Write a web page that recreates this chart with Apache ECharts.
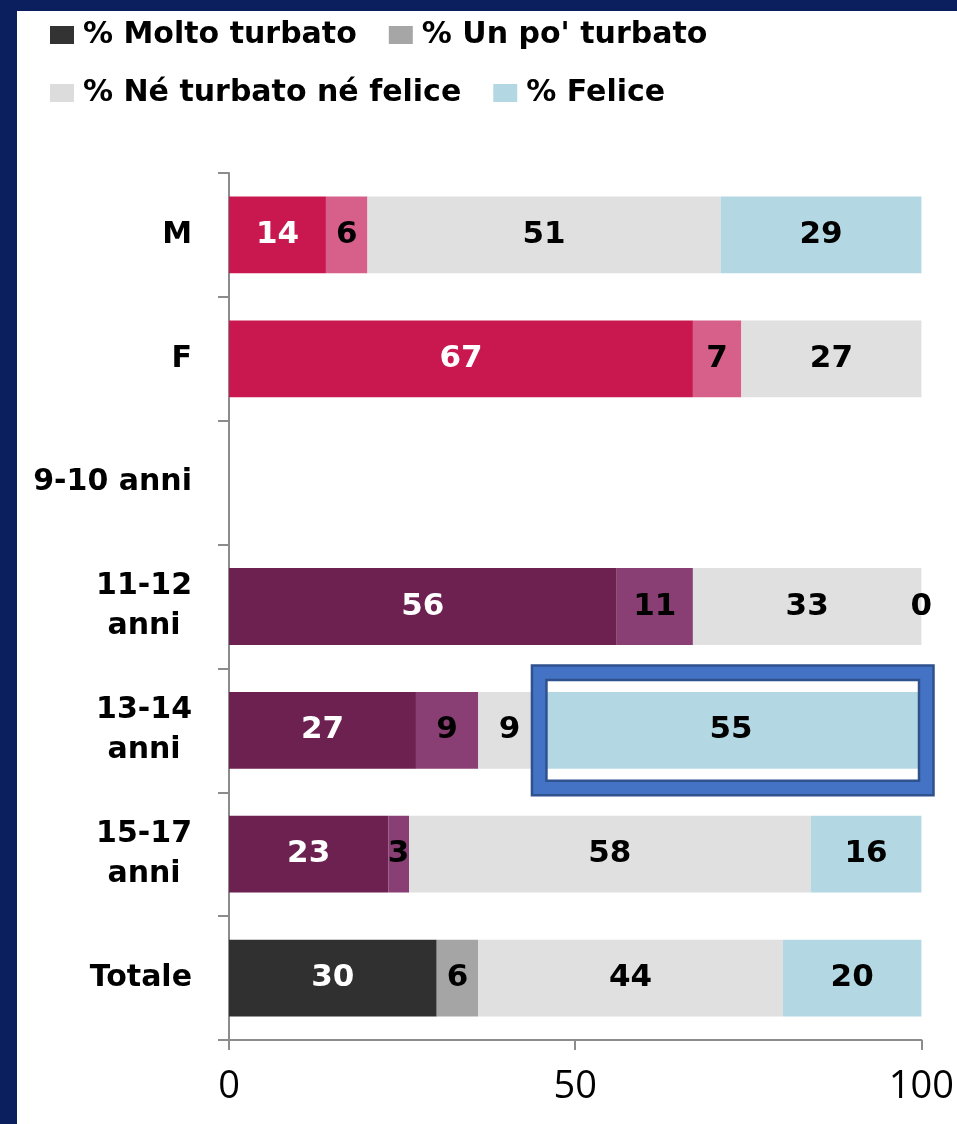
<!DOCTYPE html>
<html><head><meta charset="utf-8">
<script src="https://cdn.jsdelivr.net/npm/echarts@6/dist/echarts.min.js"></script>
<style>
html,body{margin:0;padding:0;background:#0B1F5E;width:957px;height:1124px;overflow:hidden}
#chart{position:absolute;left:17px;top:11px;width:940px;height:1113px;background:#fff}
</style></head><body><div id="chart"></div>
<script>
// ---- data ----
const categories = ['M', 'F', '9-10 anni', '11-12\nanni', '13-14\nanni', '15-17\nanni', 'Totale'];
const seriesNames = ['% Molto turbato', "% Un po' turbato", '% Né turbato né felice', '% Felice'];
const molto  = [14, 67, null, 56, 27, 23, 30];
const unPo   = [6, 7, null, 11, 9, 3, 6];
const neNe   = [51, 27, null, 33, 9, 58, 44];
const felice = [29, null, null, 0, 55, 16, 20];
const xTicks = [0, 50, 100];
const highlight = { category: '13-14\nanni', from: 44.8, to: 100.7 };

// ---- styles ----
const groupOf = ['gender', 'gender', 'age', 'age', 'age', 'age', 'total'];
const palette = {
  gender: ['#C9184F', '#D7608A', '#E0E0E0', '#B4D8E3'],
  age:    ['#6C2150', '#8A3F74', '#E0E0E0', '#B4D8E3'],
  total:  ['#303030', '#A5A5A5', '#E0E0E0', '#B4D8E3']
};
const legendColors = ['#333333', '#A6A6A6', '#DCDCDC', '#B4D8E3'];
const labelColors = ['#FFFFFF', '#000000', '#000000', '#000000'];
const axisGray = '#8C8C8C';
const boldFont = 'DejaVu Sans';

function barSeries(si, values) {
  return {
    name: seriesNames[si],
    type: 'bar',
    stack: 'total',
    barWidth: '62%',
    itemStyle: { color: legendColors[si] },
    label: {
      show: true, position: 'inside', color: labelColors[si],
      fontFamily: boldFont, fontWeight: 'bold', fontSize: 31
    },
    data: values.map((v, i) => v == null ? '-' : { value: v, itemStyle: { color: palette[groupOf[i]][si] } })
  };
}

const legendText = {
  fontFamily: boldFont, fontWeight: 'bold', fontSize: 30, color: '#000',
  width: 400, padding: [0, 0, 0, 4]
};

const chart = echarts.init(document.getElementById('chart'));
chart.setOption({
  animation: false,
  backgroundColor: '#ffffff',
  legend: [
    { data: [seriesNames[0], seriesNames[1]], left: 28, top: 4, itemGap: 32, itemWidth: 24, itemHeight: 18,
      icon: 'rect', selectedMode: false, textStyle: legendText },
    { data: [seriesNames[2], seriesNames[3]], left: 28, top: 62, itemGap: 32, itemWidth: 24, itemHeight: 18,
      icon: 'rect', selectedMode: false, textStyle: legendText }
  ],
  grid: { left: 212, right: 35, top: 162, bottom: 84, containLabel: false },
  xAxis: {
    type: 'value', min: xTicks[0], max: xTicks[xTicks.length - 1], interval: xTicks[1] - xTicks[0],
    axisLine: { show: true, lineStyle: { color: axisGray, width: 2 } },
    axisTick: { show: true, length: 10, lineStyle: { color: axisGray, width: 2 } },
    splitLine: { show: false },
    axisLabel: { margin: 28, color: '#000', fontFamily: 'Open Sans', fontSize: 38 }
  },
  yAxis: {
    type: 'category', data: categories, inverse: true,
    axisLine: { show: true, lineStyle: { color: axisGray, width: 2 } },
    axisTick: { show: true, length: 11, lineStyle: { color: axisGray, width: 2 } },
    axisLabel: {
      margin: 37, color: '#000', fontFamily: boldFont, fontWeight: 'bold', fontSize: 30, lineHeight: 40,
      formatter: v => v.split('\n').map(s => '{c|' + s + '}').join('\n'),
      rich: { c: { align: 'center', color: '#000', fontFamily: boldFont, fontWeight: 'bold', fontSize: 30, lineHeight: 40 } }
    }
  },
  series: [
    barSeries(0, molto),
    barSeries(1, unPo),
    barSeries(2, neNe),
    barSeries(3, felice),
    {
      type: 'custom', name: 'highlight', silent: true, z: 5, clip: false,
      encode: { x: [0, 1], y: 2 },
      data: [[highlight.from, highlight.to, highlight.category]],
      renderItem(params, api) {
        const y = api.value(2);
        const p1 = api.coord([api.value(0), y]);
        const p2 = api.coord([api.value(1), y]);
        const h = api.size([0, 1])[1] * 0.93;
        const shape = { x: p1[0], y: p1[1] - h / 2, width: p2[0] - p1[0], height: h };
        return {
          type: 'group', children: [
            { type: 'rect', shape, style: { fill: 'none', stroke: '#2F528F', lineWidth: 17 } },
            { type: 'rect', shape, style: { fill: 'none', stroke: '#4472C4', lineWidth: 12 } }
          ]
        };
      }
    }
  ]
});
</script></body></html>
